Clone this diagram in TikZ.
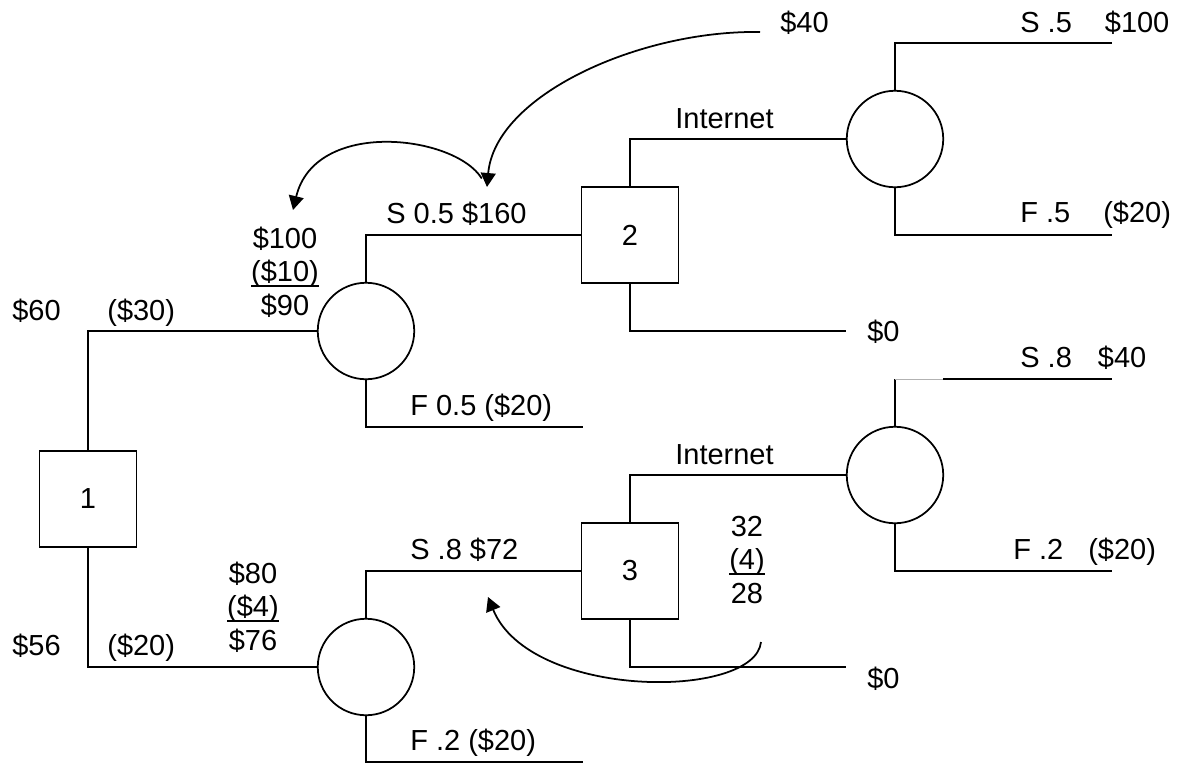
\documentclass[tikz,border=0pt]{standalone}
\usepackage{fontspec}
\setmainfont{Liberation Sans}
\usetikzlibrary{shapes.geometric, arrows, arrows.meta}
\tikzstyle{decision} = [rectangle, minimum width=1.94cm, minimum height=1.92cm, inner sep=0pt, draw=black, line width=1pt, font=\fontsize{16.5}{19}\selectfont]
\tikzstyle{chance} = [circle, minimum size=1.93cm, inner sep=0pt, draw=black, line width=1pt]
\tikzstyle{lbl} = [inner sep=0pt, font=\fontsize{16.5}{19}\selectfont]
\tikzstyle{branch} = [line width=1pt]
\tikzstyle{arrow} = [line width=1pt, ->, >={Triangle[length=0.28cm, width=0.3cm]}]
\newcommand{\costul}[1]{\setbox0\hbox{#1}\rlap{\vrule height -2.2pt depth 3.3pt width \wd0}\box0}

\begin{document}
\begin{tikzpicture}[x=0.02cm, y=-0.02cm]
		\useasboundingbox (0,0) rectangle (1178,765);
		\coordinate (dOne) at (88,499);
		\coordinate (dTwo) at (630,235);
		\coordinate (dThree) at (630,571);
		\coordinate (chA) at (366,331);
		\coordinate (chB) at (895,139);
		\coordinate (chC) at (366,667);
		\coordinate (chD) at (895,475);
		% branch ends
		\coordinate (endAF) at (583,427);
		\coordinate (endCF) at (583,762);
		\coordinate (endTwoN) at (846,331);
		\coordinate (endThreeN) at (846,667);
		\coordinate (endBS) at (1112,43);
		\coordinate (endBF) at (1112,235);
		\coordinate (kinkDS) at (895,379);
		\coordinate (gapDS) at (943,379);
		\coordinate (endDS) at (1112,379);
		\coordinate (endDF) at (1112,571);
		% arrow ends
		\coordinate (arwStartA) at (760,32);
		\coordinate (hub) at (487,187);
		\coordinate (arwEndB) at (293,210);
		\coordinate (arwStartC) at (761,642);
		\coordinate (arwEndC) at (488,597);
		% Decisions
		\begin{scope}[every node/.style={decision}]
		\node[name=dOne] at (dOne) {1};
		\node[name=dTwo] at (dTwo) {2};
		\node[name=dThree] at (dThree) {3};
		\end{scope}
		% Chance events
		\begin{scope}[every node/.style={chance}]
		\node[name=chA] at (chA) {};
		\node[name=chB] at (chB) {};
		\node[name=chC] at (chC) {};
		\node[name=chD] at (chD) {};
		\end{scope}
		\draw [branch] (dOne) |- (chA);
		\draw [branch] (dOne) |- (chC);
		\draw [branch] (chA) |- (dTwo);
		\draw [branch] (chA) |- (endAF);
		\draw [branch] (chC) |- (dThree);
		\draw [branch] (chC) |- (endCF);
		\draw [branch] (dTwo) |- (chB);
		\draw [branch] (dTwo) |- (endTwoN);
		\draw [branch] (dThree) |- (chD);
		\draw [branch] (dThree) |- (endThreeN);
		\draw [branch] (chB) |- (endBS);
		\draw [branch] (chB) |- (endBF);
		\draw [branch] (chD) -- (kinkDS);
		\draw [gray!60, thin] (kinkDS) -- (gapDS);
		\draw [branch] (gapDS) -- (endDS);
		\draw [branch] (chD) |- (endDF);
		% roll-back arrows
		\draw [arrow] (arwStartA) .. controls (640,30) and (495,95) .. (hub);
		\draw [arrow, shorten <=0.2cm] (hub) .. controls (455,135) and (315,118) .. (arwEndB);
		\draw [arrow] (arwStartC) .. controls (755,700) and (530,700) .. (arwEndC);
		% Labels
		\begin{scope}[every node/.style={lbl, anchor=base west}]
		\node (tSixty) at (12,320) {\$60};
		\node (tThirty) at (107,320) {(\$30)};
		\node (tFiftySix) at (12,655) {\$56};
		\node (tTwenty) at (107,655) {(\$20)};
		\node (tAS) at (386,223) {S 0.5 \$160};
		\node (tAF) at (410,415) {F 0.5 (\$20)};
		\node (tCS) at (410,559) {S .8 \$72};
		\node (tCF) at (410,750) {F .2 (\$20)};
		\node (tNetTwo) at (675,128) {Internet};
		\node (tNetThree) at (675,464) {Internet};
		\node (tZeroTwo) at (867,341) {\$0};
		\node (tZeroThree) at (867,688) {\$0};
		\node (tForty) at (780,32) {\$40};
		\node (tBS) at (1020,32) {S .5\hspace{0.66cm}\$100};
		\node (tBF) at (1020,222) {F .5\hspace{0.66cm}(\$20)};
		\node (tDS) at (1020,367) {S .8\hspace{0.52cm}\$40};
		\node (tDF) at (1013,559) {F .2\hspace{0.5cm}(\$20)};
		\end{scope}
		% Expected values (anchored at last line)
		\begin{scope}[every node/.style={lbl, anchor=base, align=center}]
		\node (evA) at (285,315) {\$100\\\costul{(\$10)}\\\$90};
		\node (evC) at (253,650) {\$80\\\costul{(\$4)}\\\$76};
		\node (evThree) at (747,603) {32\\\costul{(4)}\\28};
		\end{scope}
\end{tikzpicture}
\end{document}
